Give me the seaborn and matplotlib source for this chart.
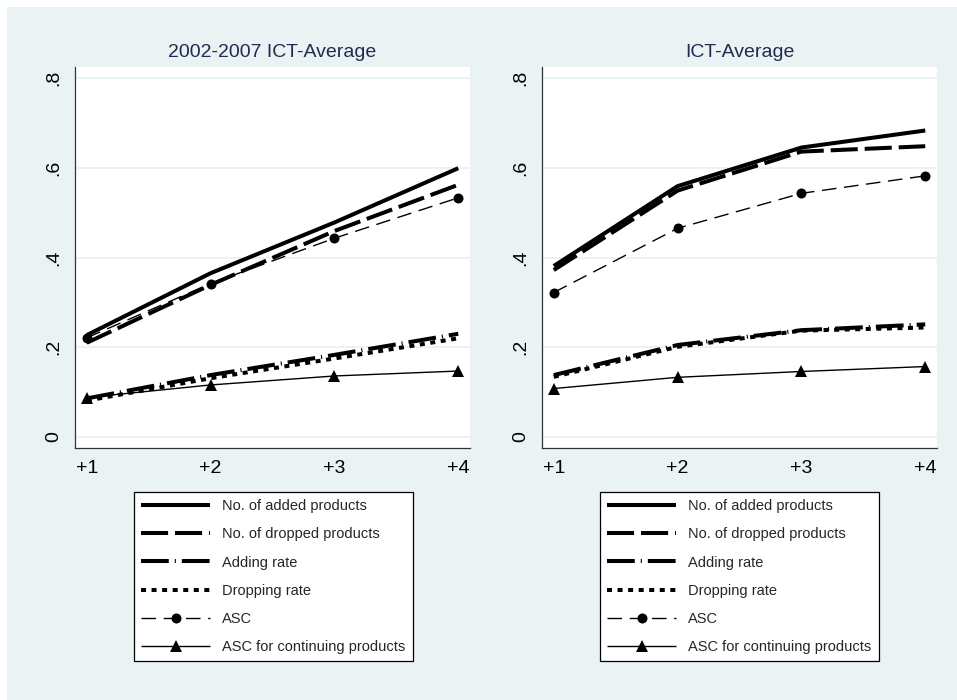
import matplotlib
matplotlib.use("Agg")
import matplotlib.pyplot as plt
from matplotlib.patches import Rectangle
import seaborn as sns
import pandas as pd

# Horizon (years after entry)
horizons = [1, 2, 3, 4]
horizon_labels = ["+1", "+2", "+3", "+4"]
yticks = [0.0, 0.2, 0.4, 0.6, 0.8]
ytick_labels = ["0", ".2", ".4", ".6", ".8"]

panel_titles = ["2002-2007 ICT-Average", "ICT-Average"]

series_names = [
    "No. of added products",
    "No. of dropped products",
    "Adding rate",
    "Dropping rate",
    "ASC",
    "ASC for continuing products",
]

# 2002-2007 ICT-Average
p1_added = [0.227, 0.365, 0.478, 0.599]
p1_dropped = [0.210, 0.339, 0.459, 0.562]
p1_adding_rate = [0.086, 0.138, 0.183, 0.230]
p1_dropping_rate = [0.081, 0.131, 0.175, 0.220]
p1_asc = [0.221, 0.342, 0.443, 0.533]
p1_asc_cont = [0.088, 0.116, 0.136, 0.147]

# ICT-Average
p2_added = [0.381, 0.559, 0.645, 0.683]
p2_dropped = [0.372, 0.549, 0.636, 0.648]
p2_adding_rate = [0.138, 0.205, 0.238, 0.251]
p2_dropping_rate = [0.134, 0.201, 0.237, 0.244]
p2_asc = [0.322, 0.465, 0.543, 0.582]
p2_asc_cont = [0.108, 0.133, 0.146, 0.157]

panels = [
    [p1_added, p1_dropped, p1_adding_rate, p1_dropping_rate, p1_asc, p1_asc_cont],
    [p2_added, p2_dropped, p2_adding_rate, p2_dropping_rate, p2_asc, p2_asc_cont],
]

# Line styles per series (dash lengths in points)
styles = [
    dict(lw=2.9, ls="-", marker=None, ms=0),
    dict(lw=2.9, ls=(0, (19.5, 5.0)), marker=None, ms=0),
    dict(lw=2.9, ls=(0, (20.0, 4.3, 0.8, 4.3)), marker=None, ms=0),
    dict(lw=2.9, ls=(0, (3.6, 4.0)), marker=None, ms=0),
    dict(lw=1.0, ls=(0, (10.5, 5.5)), marker="o", ms=7.2),
    dict(lw=1.0, ls="-", marker="^", ms=8.5),
]

BG = "#EAF2F3"
TITLE_COLOR = "#1E2C4F"

sns.set_theme(style="white")
plt.rcParams["font.family"] = ["Liberation Sans", "DejaVu Sans"]
plt.rcParams["lines.scale_dashes"] = False

W, H = 957, 700
fig = plt.figure(figsize=(W / 100, H / 100), dpi=100, facecolor="white")
fig.patches.append(Rectangle((7 / W, 0), 1 - 7 / W, 1 - 7 / H,
                             transform=fig.transFigure, facecolor=BG,
                             edgecolor="none", zorder=-10))

ax_rects = [
    (75 / W, 1 - 448 / H, 395 / W, 381 / H),
    (542 / W, 1 - 448 / H, 395 / W, 381 / H),
]
legend_centers = [(131 + 416) / 2 / W, (597 + 882) / 2 / W]

for k in range(2):
    ax = fig.add_axes(ax_rects[k])
    ax.set_facecolor("white")
    handles = []
    for name, vals, st in zip(series_names, panels[k], styles):
        df = pd.DataFrame({"horizon": horizons, "value": vals})
        sns.lineplot(data=df, x="horizon", y="value", ax=ax, color="black",
                     linewidth=st["lw"], linestyle=st["ls"],
                     marker=st["marker"] if st["marker"] else "",
                     markersize=st["ms"], markeredgewidth=0,
                     markerfacecolor="black", legend=False, zorder=3)
        line = ax.lines[-1]
        line.set_label(name)
        line.set_dash_capstyle("butt")
        line.set_solid_capstyle("butt")
        handles.append(line)

    ax.set_xlim(0.905, 4.095)
    ax.set_ylim(-0.0245, 0.8245)
    ax.set_xticks(horizons)
    ax.set_xticklabels(horizon_labels, fontsize=14)
    ax.set_yticks(yticks)
    ax.set_yticklabels(ytick_labels, fontsize=14, rotation=90, va="center")
    ax.set_xlabel("")
    ax.set_ylabel("")
    ax.grid(axis="y", color=BG, linewidth=1.4, zorder=0)
    ax.set_axisbelow(True)
    for side in ["top", "right"]:
        ax.spines[side].set_visible(False)
    for side in ["left", "bottom"]:
        ax.spines[side].set_color("#333333")
        ax.spines[side].set_linewidth(0.9)
    ax.tick_params(axis="both", direction="out", length=5, width=0.9,
                   color="#333333", labelcolor="black")
    ax.tick_params(axis="y", pad=4)
    ax.tick_params(axis="x", pad=3.5)
    ax.set_title(panel_titles[k], fontsize=14, color=TITLE_COLOR, pad=7)

    leg = ax.legend(handles=handles, loc="upper center",
                    bbox_to_anchor=(legend_centers[k], 1 - 492 / H),
                    bbox_transform=fig.transFigure, fontsize=10.5,
                    frameon=True, fancybox=False, framealpha=1,
                    edgecolor="black", facecolor="white",
                    handlelength=4.7, handletextpad=0.85, labelspacing=0.97,
                    borderpad=0.5, borderaxespad=0, numpoints=1)
    leg.get_frame().set_linewidth(0.9)

fig.savefig("out.png", dpi=100, facecolor="white")
